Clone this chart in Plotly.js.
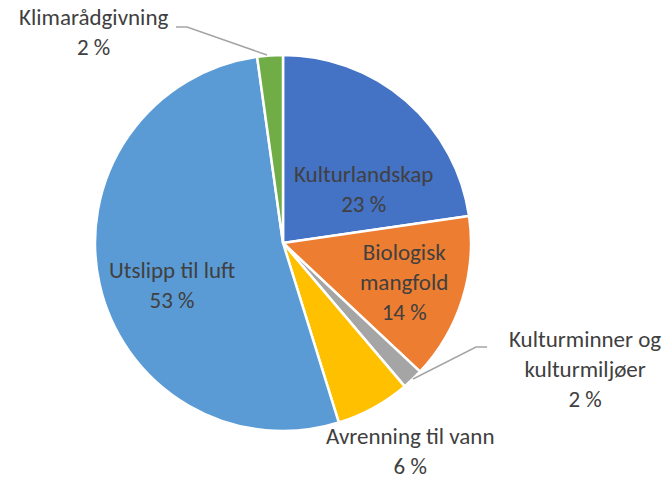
<!DOCTYPE html>
<html>
<head>
<meta charset="utf-8">
<script src="https://cdn.plot.ly/plotly-3.0.1.min.js"></script>
<style>
  html, body { margin: 0; padding: 0; background: #fff; }
  #chart { width: 669px; height: 481px; }
</style>
</head>
<body>
<div id="chart"></div>
<script>
// slices, clockwise from 12 o'clock
const labels = ['Kulturlandskap', 'Biologisk<br>mangfold', 'Kulturminner og<br>kulturmiljøer',
                'Avrenning til vann', 'Utslipp til luft', 'Klimarådgivning'];
const shares = [22.7, 14.3, 1.8, 6.4, 52.6, 2.2];
const colors = ['#4472C4', '#ED7D31', '#A5A5A5', '#FFC000', '#5B9BD5', '#70AD47'];

// data label spots in pixels (Excel-style placement)
const labelSpots = [[363, 189], [404, 282], [585, 369], [410, 451], [172, 285], [93, 32]];
const leaders = {
    2: [[487, 347], [476, 347], [413, 379]],
    5: [[176, 27], [187, 27], [267, 55]]
};

function drawChart() {
    const W = 669, H = 481;
    const px = x => x / W;
    const py = y => 1 - y / H;
    const font = 'Carlito, Lato, "Liberation Sans", sans-serif';

    const annotations = labels.map((lab, i) => ({
        xref: 'paper', yref: 'paper',
        x: px(labelSpots[i][0]), y: py(labelSpots[i][1]),
        xanchor: 'center', yanchor: 'middle',
        text: lab + '<br>' + shares[i].toFixed(0) + ' %',
        showarrow: false,
        borderpad: 0,
        font: { family: font, size: 23, color: '#404040' }
    }));

    const shapes = Object.keys(leaders).map(k => ({
        type: 'path', xref: 'paper', yref: 'paper',
        path: leaders[k].map((p, j) => (j ? 'L' : 'M') + px(p[0]) + ',' + py(p[1])).join(' '),
        line: { color: '#A5A5A5', width: 1.5 }
    }));

    Plotly.newPlot('chart', [{
        type: 'pie',
        values: shares,
        labels: labels,
        textinfo: 'none',
        sort: false,
        direction: 'clockwise',
        rotation: 0,
        marker: { colors: colors, line: { color: '#ffffff', width: 2.5 } },
        domain: { x: [px(283 - 188), px(283 + 188)], y: [py(431), py(55)] },
        hoverinfo: 'none'
    }], {
        width: W, height: H,
        margin: { l: 0, r: 0, t: 0, b: 0 },
        showlegend: false,
        paper_bgcolor: '#ffffff',
        annotations: annotations,
        shapes: shapes
    }, { staticPlot: true });
}

window.addEventListener('load', drawChart);
</script>
</body>
</html>
